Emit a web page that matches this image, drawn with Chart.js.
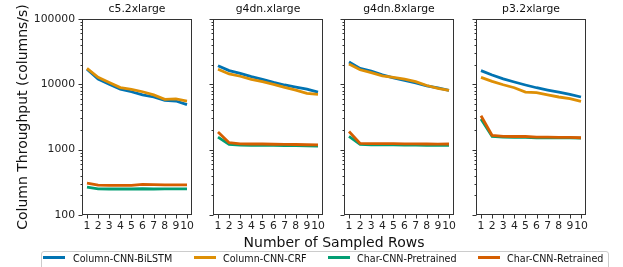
<!DOCTYPE html>
<html>
<head>
<meta charset="utf-8">
<script src="https://cdn.jsdelivr.net/npm/chart.js@4/dist/chart.umd.min.js"></script>
<style>
  html, body { margin: 0; padding: 0; background: #fff; }
  body { width: 623px; height: 267px; position: relative; overflow: hidden; font-family: "DejaVu Sans", sans-serif; color: #111; }
  canvas { position: absolute; top: 0; }
  .xtitle { position: absolute; left: 234px; width: 200px; top: 233px; text-align: center; font-size: 14px; line-height: 18px; white-space: nowrap; }
  .legend { position: absolute; left: 41px; top: 251px; width: 568px; height: 22px; border: 1px solid #ccc; border-radius: 3px; box-sizing: border-box; }
  .lline { position: absolute; height: 3px; top: 256px; }
  .ltext { position: absolute; top: 252px; font-size: 9.6px; line-height: 14px; white-space: nowrap; }
</style>
</head>
<body>
<script>
// ---- data ----
const xValues = [1, 2, 3, 4, 5, 6, 7, 8, 9, 10];
const panelTitles = ['c5.2xlarge', 'g4dn.xlarge', 'g4dn.8xlarge', 'p3.2xlarge'];
const seriesNames = ['Column-CNN-BiLSTM', 'Column-CNN-CRF', 'Char-CNN-Pretrained', 'Char-CNN-Retrained'];
const seriesColors = ['#0173b2', '#de8f05', '#029e73', '#d55e00'];
const yTickLabels = ['100', '1000', '10000', '100000'];
const yAxisTitle = 'Column Throughput (columns/s)';
const xAxisTitle = 'Number of Sampled Rows';

const c5Bilstm = [17100, 12000, 10000, 8400, 7700, 6900, 6400, 5700, 5550, 4900];
const c5Crf = [17600, 12800, 10700, 8900, 8400, 7700, 6900, 5900, 6000, 5550];
const c5Pretrained = [267, 252, 250, 250, 250, 252, 250, 252, 252, 252];
const c5Retrained = [308, 287, 285, 284, 285, 294, 292, 290, 290, 290];

const g4Bilstm = [19300, 16200, 14700, 13100, 11900, 10700, 9770, 9100, 8470, 7600];
const g4Crf = [17000, 14400, 13300, 11900, 10960, 10000, 9000, 8180, 7280, 7030];
const g4Pretrained = [1560, 1205, 1170, 1165, 1160, 1160, 1155, 1150, 1145, 1135];
const g4Retrained = [1860, 1277, 1225, 1220, 1220, 1210, 1205, 1200, 1190, 1180];

const g48Bilstm = [22000, 17500, 16000, 14000, 12600, 11500, 10500, 9500, 8800, 8100];
const g48Crf = [20500, 16700, 15100, 13500, 12800, 12000, 11000, 9600, 8700, 8100];
const g48Pretrained = [1600, 1205, 1190, 1185, 1180, 1175, 1170, 1165, 1160, 1160];
const g48Retrained = [1900, 1250, 1240, 1235, 1235, 1230, 1225, 1220, 1215, 1220];

const p3Bilstm = [16200, 13900, 12100, 10850, 9770, 8870, 8180, 7600, 7030, 6400];
const p3Crf = [12800, 11100, 9860, 8870, 7600, 7440, 6900, 6400, 6030, 5490];
const p3Pretrained = [2940, 1600, 1560, 1540, 1540, 1520, 1520, 1510, 1510, 1506];
const p3Retrained = [3300, 1650, 1600, 1590, 1590, 1560, 1560, 1540, 1540, 1523];

const panelData = [
  [c5Bilstm, c5Crf, c5Pretrained, c5Retrained],
  [g4Bilstm, g4Crf, g4Pretrained, g4Retrained],
  [g48Bilstm, g48Crf, g48Pretrained, g48Retrained],
  [p3Bilstm, p3Crf, p3Pretrained, p3Retrained]
];

// ---- layout ----
const plotLefts = [82, 213, 344, 476];
const plotW = 110, plotBottom = 215, xAxisH = 20, padRight = 8;
const FONT = '"DejaVu Sans", sans-serif';
const AXIS_COLOR = '#333';

const yTickValues = [];
for (let e = 2; e <= 4; e++) for (let m = 1; m <= 9; m++) yTickValues.push(m * Math.pow(10, e));
yTickValues.push(100000);
const isMajor = v => yTickLabels.includes(String(v));

function makeFramePlugin(idx) {
  return {
    id: 'frameTicks' + idx,
    afterDraw(chart) {
      const ctx = chart.ctx, a = chart.chartArea, sx = chart.scales.x, sy = chart.scales.y;
      ctx.save();
      ctx.strokeStyle = AXIS_COLOR;
      ctx.lineWidth = 1;
      const L = Math.round(a.left), T = Math.round(a.top), R = Math.round(a.right), B = Math.round(a.bottom);
      ctx.strokeRect(L + 0.5, T + 0.5, R - L - 1, B - T - 1);
      ctx.beginPath();
      yTickValues.forEach(v => {
        const y = Math.round(sy.getPixelForValue(v)) + 0.5;
        const len = isMajor(v) ? 4 : 2;
        ctx.moveTo(L + 0.5, y);
        ctx.lineTo(L + 0.5 - len, y);
      });
      xValues.forEach(v => {
        const x = Math.round(sx.getPixelForValue(v)) + 0.5;
        ctx.moveTo(x, B - 0.5);
        ctx.lineTo(x, B + 3.5);
      });
      ctx.stroke();
      ctx.restore();
    }
  };
}

panelTitles.forEach((title, i) => {
  const yW = i === 0 ? 82 : 8;
  const cv = document.createElement('canvas');
  const w = yW + plotW + padRight, h = plotBottom + xAxisH;
  cv.width = w; cv.height = h;
  cv.style.left = (plotLefts[i] - yW) + 'px';
  cv.style.width = w + 'px'; cv.style.height = h + 'px';
  document.body.appendChild(cv);

  const datasets = panelData[i].map((vals, k) => ({
    label: seriesNames[k],
    data: xValues.map((x, j) => ({ x: x, y: vals[j] })),
    borderColor: seriesColors[k],
    backgroundColor: seriesColors[k],
    borderWidth: 2.8,
    pointRadius: 0,
    tension: 0,
    fill: false,
    order: 4 - k
  }));

  new Chart(cv, {
    type: 'line',
    data: { datasets },
    options: {
      responsive: false,
      animation: false,
      devicePixelRatio: 1,
      layout: { padding: { top: 0, right: padRight, left: 0, bottom: 0 } },
      plugins: {
        legend: { display: false },
        tooltip: { enabled: false },
        title: {
          display: true, text: title, fullSize: false, color: '#111',
          font: { family: FONT, size: 10.8, weight: 'normal', lineHeight: 1.2 },
          padding: { top: 3, bottom: 3.04 }
        }
      },
      scales: {
        x: {
          type: 'linear', min: 0.55, max: 10.45,
          grid: { display: false, drawTicks: false },
          border: { display: false },
          afterBuildTicks: s => { s.ticks = xValues.map(v => ({ value: v })); },
          afterFit: s => { s.height = xAxisH; },
          ticks: { autoSkip: false, maxRotation: 0, padding: 5, color: '#222', font: { family: FONT, size: 10.8 }, callback: v => String(v) }
        },
        y: {
          type: 'logarithmic', min: 100, max: 100000,
          grid: { display: false, drawTicks: false },
          border: { display: false },
          title: {
            display: i === 0, text: yAxisTitle, color: '#111',
            font: { family: FONT, size: 14 }, padding: { top: 15, bottom: 0 }
          },
          afterBuildTicks: s => { s.ticks = yTickValues.map(v => ({ value: v })); },
          afterFit: s => { s.width = yW; },
          ticks: {
            autoSkip: false, padding: 7, color: '#222', font: { family: FONT, size: 10.8 },
            callback: v => (i === 0 && isMajor(v)) ? String(v) : ''
          }
        }
      }
    },
    plugins: [makeFramePlugin(i)]
  });
});

// x axis title
const xt = document.createElement('div'); xt.className = 'xtitle'; xt.textContent = xAxisTitle; document.body.appendChild(xt);

// legend
const lg = document.createElement('div'); lg.className = 'legend'; document.body.appendChild(lg);
const lineLefts = [43, 194, 328, 478];
const textLefts = [73, 223, 357, 507];
seriesNames.forEach((name, k) => {
  const l = document.createElement('div'); l.className = 'lline';
  l.style.left = lineLefts[k] + 'px'; l.style.width = '22px'; l.style.background = seriesColors[k];
  document.body.appendChild(l);
  const tx = document.createElement('div'); tx.className = 'ltext';
  tx.style.left = textLefts[k] + 'px'; tx.textContent = name;
  document.body.appendChild(tx);
});
</script>
</body>
</html>
